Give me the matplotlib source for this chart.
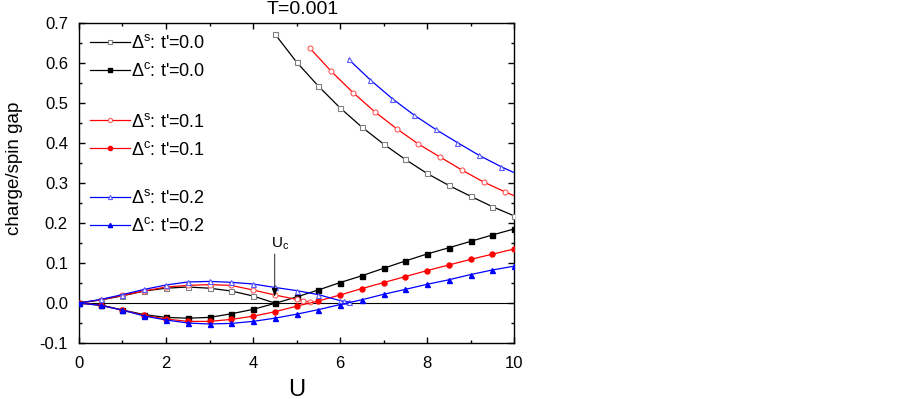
import matplotlib
matplotlib.use('Agg')
import matplotlib.pyplot as plt
from matplotlib.lines import Line2D
from matplotlib.legend import Legend
from matplotlib.ticker import MultipleLocator

plt.rcParams['font.family'] = ['Liberation Sans', 'DejaVu Sans']
plt.rcParams['mathtext.fontset'] = 'custom'
plt.rcParams['mathtext.rm'] = 'Liberation Sans'
plt.rcParams['mathtext.it'] = 'Liberation Sans:italic'

# ---- data ----
U_grid = [0, 0.5, 1, 1.5, 2, 2.5, 3, 3.5, 4, 4.5, 5, 5.5, 6, 6.5, 7, 7.5, 8, 8.5, 9, 9.5, 10]

# spin gap, t'=0.0
U_s0_low = [0, 0.5, 1, 1.5, 2, 2.5, 3, 3.5, 4, 4.5]
s0_low = [0, 0.0075, 0.018, 0.03, 0.037, 0.04, 0.037, 0.03, 0.0175, 0.0]
U_s0_high = [4.5, 5, 5.5, 6, 6.5, 7, 7.5, 8, 8.5, 9, 9.5, 10]
s0_high = [0.673, 0.6025, 0.5425, 0.488, 0.44, 0.3975, 0.359, 0.324, 0.294, 0.267, 0.241, 0.218]

# spin gap, t'=0.1
U_s1_low = [0, 0.5, 1, 1.5, 2, 2.5, 3, 3.5, 4, 4.5, 5, 5.15, 5.3]
s1_low = [0, 0.008, 0.019, 0.03, 0.04, 0.044, 0.046, 0.044, 0.0325, 0.02, 0.009, 0.006, 0.002]
U_s1_high = [5.3, 5.8, 6.3, 6.8, 7.3, 7.8, 8.3, 8.8, 9.3, 9.8, 10.3]
s1_high = [0.638, 0.579, 0.526, 0.478, 0.436, 0.3975, 0.365, 0.3325, 0.3025, 0.2775, 0.255]

# spin gap, t'=0.2
U_s2_low = [0, 0.5, 1, 1.5, 2, 2.5, 3, 3.5, 4, 4.5, 5, 5.5, 6, 6.1, 6.2]
s2_low = [0, 0.009, 0.021, 0.034, 0.045, 0.0525, 0.054, 0.0517, 0.0475, 0.039, 0.031, 0.021, 0.006, 0.004, 0.003]
U_s2_high = [6.2, 6.7, 7.2, 7.7, 8.2, 8.7, 9.2, 9.7, 10.2]
s2_high = [0.609, 0.5575, 0.511, 0.47, 0.434, 0.401, 0.369, 0.341, 0.316]

# charge gaps
c0 = [0, -0.005, -0.0175, -0.029, -0.036, -0.038, -0.036, -0.027, -0.016, -0.001, 0.015,
      0.0325, 0.051, 0.068, 0.0867, 0.105, 0.1225, 0.138, 0.154, 0.17, 0.185]
c1 = [0, -0.006, -0.018, -0.031, -0.04, -0.046, -0.046, -0.041, -0.033, -0.022, -0.008,
      0.005, 0.02, 0.036, 0.051, 0.066, 0.081, 0.095, 0.109, 0.122, 0.135]
c2 = [0, -0.006, -0.018, -0.0325, -0.0425, -0.05, -0.0525, -0.051, -0.046, -0.038, -0.028,
      -0.0167, -0.004, 0.008, 0.0217, 0.034, 0.0467, 0.058, 0.071, 0.0825, 0.092]

labels = [r"Δ$^{\mathrm{s}}$: t'=0.0", r"Δ$^{\mathrm{c}}$: t'=0.0",
          r"Δ$^{\mathrm{s}}$: t'=0.1", r"Δ$^{\mathrm{c}}$: t'=0.1",
          r"Δ$^{\mathrm{s}}$: t'=0.2", r"Δ$^{\mathrm{c}}$: t'=0.2"]

line_cols = ['black', 'red', 'blue']
open_edge = ['#808080', '#ff5a5a', '#5a5aff']
mk = ['s', 'o', '^']

fig = plt.figure(figsize=(9.03, 3.99), dpi=100)
ax = fig.add_axes([79 / 903, 56 / 399, 435 / 903, 320 / 399])

ax.axhline(0, color='black', lw=0.8, zorder=1)

lw = 0.9
ms = 3.6
spin_sets = [(U_s0_low, s0_low, U_s0_high, s0_high),
             (U_s1_low, s1_low, U_s1_high, s1_high),
             (U_s2_low, s2_low, U_s2_high, s2_high)]
charge_sets = [c0, c1, c2]

handles = []
for i in range(3):
    ul, vl, uh, vh = spin_sets[i]
    kw = dict(color=line_cols[i], lw=lw, marker=mk[i], ms=ms, mfc='white',
              mec=open_edge[i], mew=0.8, zorder=3)
    ax.plot(ul, vl, **kw)
    ax.plot(uh, vh, **kw)
    ax.plot(U_grid, charge_sets[i], color=line_cols[i], lw=lw, marker=mk[i], ms=ms,
            mfc=line_cols[i], mec=line_cols[i], zorder=3)
    hs = Line2D([], [], **{**kw, 'ms': 3.0})
    hc = Line2D([], [], color=line_cols[i], lw=lw, marker=mk[i], ms=3.0,
                mfc=line_cols[i], mec=line_cols[i])
    handles.append((hs, hc))

ax.set_xlim(0, 10)
ax.set_ylim(-0.1, 0.7)
ax.xaxis.set_major_locator(MultipleLocator(2))
ax.xaxis.set_minor_locator(MultipleLocator(1))
ax.yaxis.set_minor_locator(MultipleLocator(0.05))
ax.set_yticks([-0.1, 0.0, 0.1, 0.2, 0.3, 0.4, 0.5, 0.6, 0.7])
ax.set_yticklabels(['-0.1', '0.0', '0.1', '0.2', '0.3', '0.4', '0.5', '0.6', '0.7'])
ax.tick_params(which='both', direction='in', top=True, right=True, labelsize=12)
ax.tick_params(axis='x', pad=9)
ax.tick_params(axis='y', pad=8)
ax.tick_params(which='major', length=4, width=1)
ax.tick_params(which='minor', length=2.5, width=1)
for sp in ax.spines.values():
    sp.set_linewidth(1.0)

ax.set_xlabel('U', fontsize=17, labelpad=6)
ax.set_ylabel('charge/spin gap', fontsize=13.5)
ax.yaxis.set_label_coords(-0.129, 0.545)

fig.text(303 / 903, 1 - 10 / 399, 'T=0.001', ha='center', va='center', fontsize=14)

# U_c arrow
ax.annotate('', xy=(4.5, 0.016), xytext=(4.5, 0.1225),
            arrowprops=dict(arrowstyle='-|>,head_length=0.5,head_width=0.18',
                            color='black', lw=0.6, shrinkA=0, shrinkB=0))
ax.text(4.42, 0.1375, r'U$_{\mathrm{c}}$', fontsize=11, ha='left', va='baseline')

tops = [0.965, 0.720, 0.480]
for i in range(3):
    leg = Legend(ax, list(handles[i]), labels[2 * i:2 * i + 2], loc='upper left',
                 bbox_to_anchor=(0.025, tops[i]), frameon=False, fontsize=13,
                 handlelength=2.2, handletextpad=0.1, labelspacing=0.55,
                 borderpad=0, borderaxespad=0)
    ax.add_artist(leg)

fig.savefig('out.png', dpi=100)
